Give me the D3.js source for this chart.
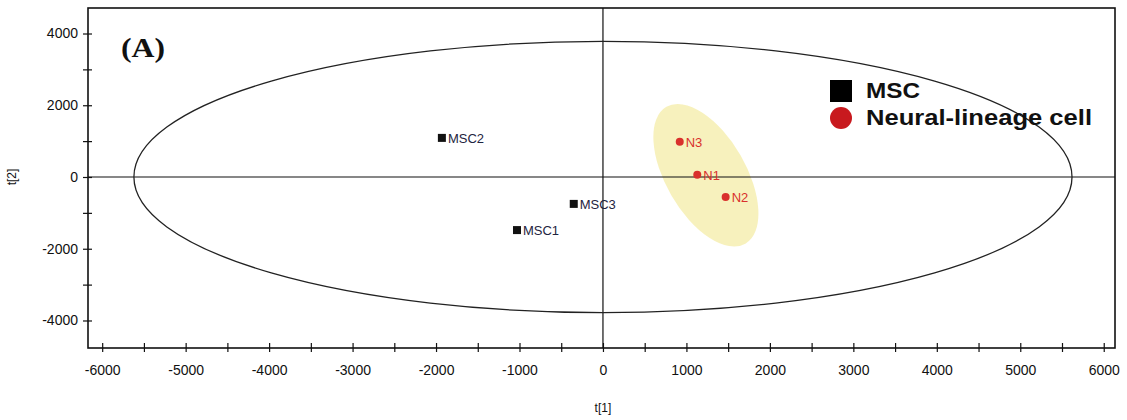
<!DOCTYPE html>
<html><head><meta charset="utf-8">
<script src="https://cdn.jsdelivr.net/npm/d3@7"></script>
<style>body{margin:0;background:#fff}svg{display:block}</style>
</head><body><svg id="c" width="1127" height="420"></svg>
<script>
const mscNames = ["MSC1","MSC2","MSC3"];
const mscT1 = [-1030,-1930,-350];
const mscT2 = [-1480,1090,-750];
const nNames = ["N1","N2","N3"];
const nT1 = [1130,1470,920];
const nT2 = [60,-560,980];
const xTicks = [-6000,-5000,-4000,-3000,-2000,-1000,0,1000,2000,3000,4000,5000,6000];
const yTicks = [-4000,-2000,0,2000,4000];
const ellipseT1 = 5620, ellipseT2 = 3780;
const legendLabels = ["MSC","Neural-lineage cell"];

const svg = d3.select("#c");
const L=88,R=1115,T=8,B=348;
const x = d3.scaleLinear().domain([-6170,6135]).range([L,R]);
const y = d3.scaleLinear().domain([-4767,4711]).range([B,T]);
const font = "Liberation Sans, Arial, sans-serif";

// frame
svg.append("rect").attr("x",L).attr("y",T).attr("width",R-L).attr("height",B-T)
  .attr("fill","none").attr("stroke","#111").attr("stroke-width",1.6);

// yellow cluster ellipse
const cx = x(d3.mean(nT1))+5, cy = y(d3.mean(nT2))+4;
svg.append("ellipse").attr("cx",cx).attr("cy",cy).attr("rx",79).attr("ry",40)
  .attr("transform",`rotate(60,${cx},${cy})`)
  .attr("fill","#f6efb2").attr("opacity",0.85);

// crosshair
svg.append("line").attr("x1",L).attr("x2",R).attr("y1",y(0)).attr("y2",y(0)).attr("stroke","#111").attr("stroke-width",1.2);
svg.append("line").attr("x1",x(0)).attr("x2",x(0)).attr("y1",T).attr("y2",B).attr("stroke","#111").attr("stroke-width",1.2);

// Hotelling ellipse
svg.append("ellipse").attr("cx",x(0)).attr("cy",y(0))
  .attr("rx",x(ellipseT1)-x(0)).attr("ry",y(0)-y(ellipseT2))
  .attr("fill","none").attr("stroke","#222").attr("stroke-width",1.3);

// axes
const xMinor = d3.range(-6000,6001,500);
const xAxis = d3.axisBottom(x).tickValues(xMinor).tickSize(0).tickFormat(d=> xTicks.includes(d)? d : "");
const gx = svg.append("g").attr("transform",`translate(0,${B})`).call(xAxis);
gx.select(".domain").remove();
gx.selectAll(".tick").append("line").attr("y1",-5).attr("y2",4).attr("stroke","#111").attr("stroke-width",1.2);
gx.selectAll("text").attr("y",17).attr("font-family",font).attr("font-size",14).attr("fill","#111");

const yMinor = d3.range(-4000,4001,1000);
const yAxis = d3.axisLeft(y).tickValues(yMinor).tickSize(0).tickFormat(d=> yTicks.includes(d)? d : "");
const gy = svg.append("g").attr("transform",`translate(${L},0)`).call(yAxis);
gy.select(".domain").remove();
gy.selectAll(".tick").append("line").attr("x1",-5).attr("x2",4).attr("stroke","#111").attr("stroke-width",1.2);
gy.selectAll("text").attr("x",-10).attr("font-family",font).attr("font-size",14).attr("fill","#111");

svg.append("text").attr("x",x(0)).attr("y",412).attr("text-anchor","middle")
  .attr("font-family",font).attr("font-size",12).attr("fill","#111").text("t[1]");
svg.append("text").attr("transform",`translate(16,${y(0)}) rotate(-90)`).attr("text-anchor","middle")
  .attr("font-family",font).attr("font-size",12).attr("fill","#111").text("t[2]");

// MSC points
mscNames.forEach((n,i)=>{
  const px=x(mscT1[i]), py=y(mscT2[i]);
  svg.append("rect").attr("x",px-4).attr("y",py-4).attr("width",8).attr("height",8).attr("fill","#111");
  svg.append("text").attr("x",px+6).attr("y",py+5).attr("font-family",font).attr("font-size",13)
    .attr("fill","#1e2440").text(n);
});
nNames.forEach((n,i)=>{
  const px=x(nT1[i]), py=y(nT2[i]);
  svg.append("circle").attr("cx",px).attr("cy",py).attr("r",4).attr("fill","#d9302c");
  svg.append("text").attr("x",px+6).attr("y",py+5).attr("font-family",font).attr("font-size",13)
    .attr("fill","#d9302c").text(n);
});

// legend
svg.append("rect").attr("x",830).attr("y",80).attr("width",22).attr("height",22).attr("fill","#000");
svg.append("circle").attr("cx",841).attr("cy",118).attr("r",11).attr("fill","#c8191e");
svg.append("text").attr("x",866).attr("y",98).attr("font-family",font).attr("font-weight","bold")
  .attr("font-size",22).attr("fill","#111").attr("textLength",54).attr("lengthAdjust","spacingAndGlyphs").text(legendLabels[0]);
svg.append("text").attr("x",866).attr("y",125).attr("font-family",font).attr("font-weight","bold")
  .attr("font-size",22).attr("fill","#111").attr("textLength",226).attr("lengthAdjust","spacingAndGlyphs").text(legendLabels[1]);

// panel label
svg.append("text").attr("x",121).attr("y",57).attr("font-family","Liberation Serif, Times New Roman, serif")
  .attr("font-weight","bold").attr("font-size",27).attr("fill","#111")
  .attr("textLength",44).attr("lengthAdjust","spacingAndGlyphs").text("(A)");
</script></body></html>
